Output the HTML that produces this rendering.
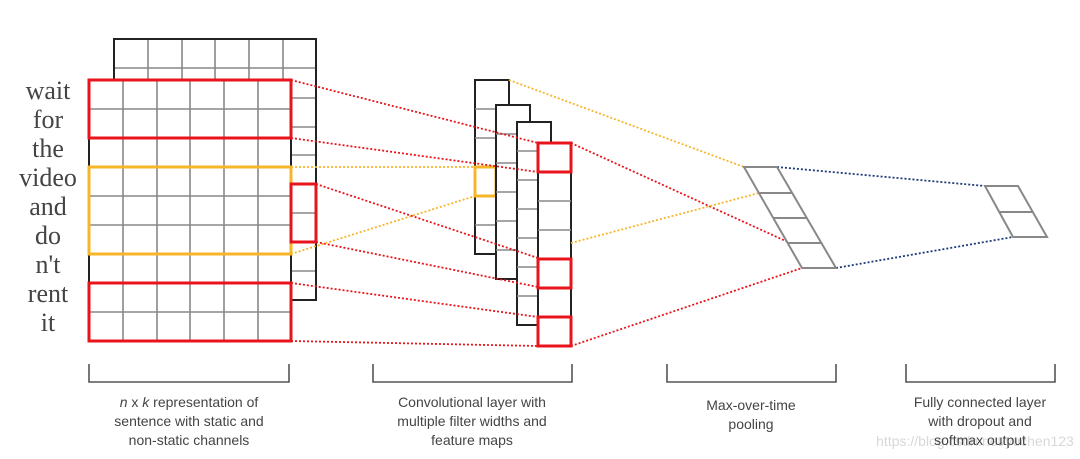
<!DOCTYPE html>
<html><head><meta charset="utf-8"><style>
html,body{margin:0;padding:0;background:#fff;}
svg{display:block;}
</style></head><body>
<svg width="1080" height="459" viewBox="0 0 1080 459" xmlns="http://www.w3.org/2000/svg">
<rect width="1080" height="459" fill="#fff"/>
<!-- back matrix -->
<g stroke="#888" stroke-width="1.6" fill="none">
  <rect x="114" y="39" width="202" height="261" fill="#fff" stroke="none"/>
  <path d="M148 39V80M182 39V80M215 39V80M249 39V80M283 39V80M114 68H316"/>
  <path d="M291 98H316M291 127H316M291 155H316M291 213H316M291 271H316"/>
  <rect x="114" y="39" width="202" height="261" stroke="#222" stroke-width="2"/>
</g>
<!-- front matrix -->
<g fill="none">
  <rect x="89" y="80" width="202" height="261" fill="#fff" stroke="#222" stroke-width="2"/>
  <g stroke="#888" stroke-width="1.6">
    <path d="M123 80V341M157 80V341M190 80V341M224 80V341M258 80V341"/>
    <path d="M89 109H291M89 138H291M89 167H291M89 196H291M89 225H291M89 254H291M89 283H291M89 312H291"/>
  </g>
  <rect x="89" y="80" width="202" height="58" stroke="#e8141b" stroke-width="3"/>
  <rect x="89" y="283" width="202" height="58" stroke="#e8141b" stroke-width="3"/>
  <rect x="89" y="167" width="202" height="87" stroke="#f7b52a" stroke-width="3"/>
  <rect x="291" y="184" width="25" height="58" stroke="#e8141b" stroke-width="3"/>
</g>
<!-- words -->
<g font-family="'Liberation Serif',serif" font-size="26" fill="#444" text-anchor="middle">
  <text x="48" y="99">wait</text>
  <text x="48" y="128">for</text>
  <text x="48" y="157">the</text>
  <text x="48" y="186">video</text>
  <text x="48" y="215">and</text>
  <text x="48" y="244">do</text>
  <text x="48" y="273">n't</text>
  <text x="48" y="302">rent</text>
  <text x="48" y="331">it</text>
</g>
<!-- conv columns -->
<g fill="#fff" stroke="#222" stroke-width="2">
  <rect x="475" y="80" width="34" height="174"/>
  <path d="M475 109H496M475 138H496M475 225H496" stroke="#888" stroke-width="1.6"/>
  <rect x="475" y="167" width="21" height="29" fill="none" stroke="#f7b52a" stroke-width="3"/>
  <rect x="496" y="105" width="34" height="174"/>
  <path d="M496 134H517M496 163H517M496 192H517M496 221H517M496 250H517" stroke="#888" stroke-width="1.6"/>
  <rect x="517" y="122" width="34" height="203"/>
  <path d="M517 151H538M517 180H538M517 209H538M517 238H538M517 267H538M517 296H538" stroke="#888" stroke-width="1.6"/>
  <rect x="538" y="143" width="33" height="203"/>
  <path d="M538 201H571M538 230H571" stroke="#888" stroke-width="1.6"/>
  <rect x="538" y="143" width="33" height="29" fill="none" stroke="#e8141b" stroke-width="3"/>
  <rect x="538" y="259" width="33" height="29" fill="none" stroke="#e8141b" stroke-width="3"/>
  <rect x="538" y="317" width="33" height="29" fill="none" stroke="#e8141b" stroke-width="3"/>
</g>
<!-- dotted connectors -->
<g fill="none" stroke-width="1.8" stroke-dasharray="2 2">
  <g stroke="#e8141b">
    <path d="M291 80L538 143M291 138L538 172M316 184L538 258M316 242L538 287M291 283L538 317M291 341L538 346"/>
    <path d="M571 143L790 243M571 346L802 268"/>
  </g>
  <g stroke="#f7b52a">
    <path d="M291 167L475 167M291 254L475 196"/>
    <path d="M509 80L744 167M571 243L759 193"/>
  </g>
  <g stroke="#1f3a7a">
    <path d="M777 167L985 186M836 268L1013 237"/>
  </g>
</g>
<!-- pooling -->
<g fill="none" stroke="#888" stroke-width="2">
  <path d="M744 167H777L836 268H802Z"/>
  <path d="M759 193H792M773 218H806M788 243H821"/>
  <path d="M985 186H1018L1047 237H1013Z"/>
  <path d="M999 212H1032"/>
</g>
<!-- brackets -->
<g fill="none" stroke="#555" stroke-width="1.6">
  <path d="M89 364V382H289V364"/>
  <path d="M373 364V382H572V364"/>
  <path d="M667 364V382H836V364"/>
  <path d="M906 364V382H1055V364"/>
</g>
<text x="975" y="446" font-family="'Liberation Sans',sans-serif" font-size="14" fill="#d8d8d8" text-anchor="middle">https://blog.csdn.net/yuchen123</text>
<g font-family="'Liberation Sans',sans-serif" font-size="14" fill="#444" text-anchor="middle">
  <text x="189" y="407"><tspan font-style="italic">n</tspan> x <tspan font-style="italic">k</tspan> representation of</text>
  <text x="189" y="426">sentence with static and</text>
  <text x="189" y="445">non-static channels</text>
  <text x="472" y="407">Convolutional layer with</text>
  <text x="472" y="426">multiple filter widths and</text>
  <text x="472" y="445">feature maps</text>
  <text x="751" y="410">Max-over-time</text>
  <text x="751" y="429">pooling</text>
  <text x="980" y="407">Fully connected layer</text>
  <text x="980" y="426">with dropout and</text>
  <text x="980" y="445">softmax output</text>
</g>
</svg>
</body></html>
